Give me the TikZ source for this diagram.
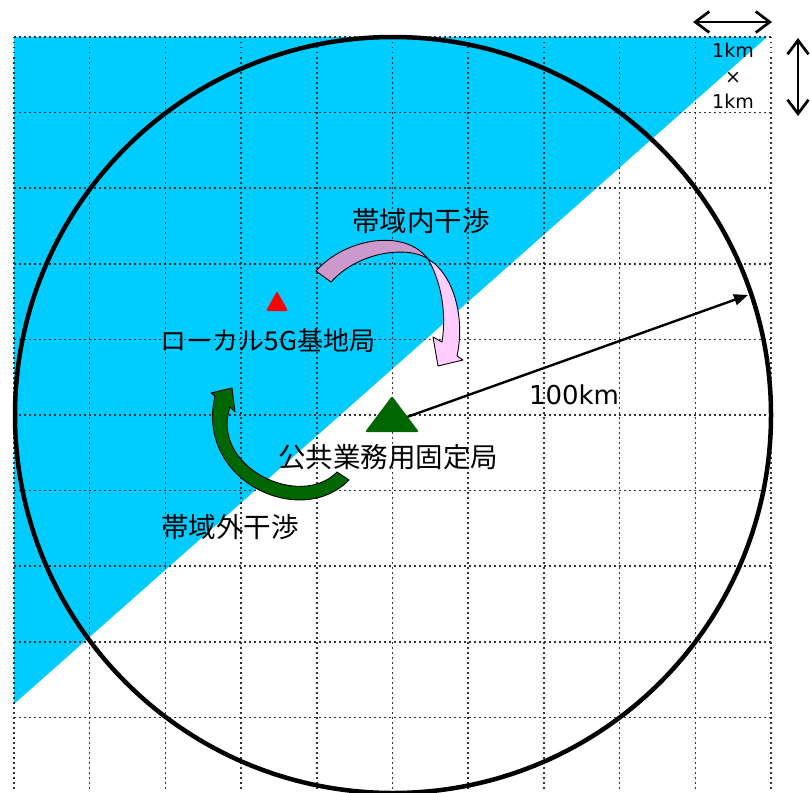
\documentclass[tikz,border=0pt]{standalone}
\usepackage{fontspec}
\newfontfamily\jpfont{Noto Sans CJK JP}
\newfontfamily\latfont{DejaVu Sans}
\usetikzlibrary{arrows.meta, calc}
\definecolor{sea}{HTML}{00CCFF}
\definecolor{dgreen}{HTML}{006600}
\definecolor{mauve}{HTML}{CC99CC}
\definecolor{lpink}{HTML}{FFCCFF}
\tikzset{
    %Define style for japanese labels
    jlab/.style={
           font=\jpfont\fontsize{27.5}{32}\selectfont,
           inner sep=0pt},
    %latin labels
    llab/.style={
           font=\latfont\fontsize{26}{30}\selectfont,
           inner sep=0pt},
    %dotted 1km grid
    gridl/.style={
           line width=1.5pt,
           dash pattern=on 1.5pt off 3.5pt,
           black!80},
    %service area
    ring/.style={line width=4.5pt},
    % Define arrow styles
    rad/.style={
           -{Triangle[length=14pt,width=11pt]},
           line width=2.4pt},
    dbl/.style={
           {Straight Barb[length=14pt,width=21pt]}-{Straight Barb[length=14pt,width=21pt]},
           line width=2.7pt},
    band/.style={
           draw=black,
           line width=0.9pt,
           line join=round}
}
\begin{document}
\begin{tikzpicture}[x=1pt,y=-1pt]
\useasboundingbox (0,0) rectangle (810,792);

% sea side
\fill[sea] (14,37) -- (767,37) -- (14,704) -- cycle;

% grid
\foreach \i in {0,...,10}
  \draw[gridl] (14+75.7*\i,37) -- (14+75.7*\i,792);
\foreach \j in {0,...,9}
  \draw[gridl] (14,37+75.6*\j) -- (771,37+75.6*\j);

\coordinate (ctr) at (393,415);
\coordinate (tail) at (393,422);
\coordinate (edge) at (748,295);

\draw[ring] (ctr) circle[radius=378pt];
\draw[rad] (tail) -- (edge);

% stations
\fill[dgreen, rounded corners=2pt] (392,396) -- (419,432) -- (365,432) -- cycle;
\fill[red, rounded corners=1.5pt] (277,291) -- (288,311) -- (266,311) -- cycle;

% in-band interference arrow
\filldraw[band, fill=mauve] (316,271) .. controls (345,238) and (405,228) .. (428,259)
   .. controls (410,246) and (360,250) .. (331,282) -- cycle;
\filldraw[band, fill=lpink] (428,259) .. controls (455,275) and (465,320) .. (457,356)
   -- (463,360) -- (438,366) -- (433,337) -- (442,342)
   .. controls (447,310) and (440,280) .. (428,259) -- cycle;

% out-of-band interference arrow
\filldraw[band, fill=dgreen] (349,480) .. controls (300,530) and (195,480) .. (215,396)
   -- (211,393) -- (232,388) -- (235,412) -- (230,407)
   .. controls (210,467) and (300,510) .. (337,472) -- cycle;

% labels
\node[jlab, font=\jpfont\fontsize{26}{30}\selectfont] (lbl5g) at (268,341) {ローカル5G基地局};
\node[jlab] (lblfix) at (388,457) {公共業務用固定局};
\node[jlab] (lblin) at (421,221) {帯域内干渉};
\node[jlab] (lblout) at (230,527) {帯域外干渉};
\node[llab] (lbldist) at (574,395) {100km};
\node[llab, align=center, font=\latfont\fontsize{19}{25.5}\selectfont] (unit) at (733,76) {1km\\×\\1km};

% scale arrows
\coordinate (hl) at (693,22);
\coordinate (hr) at (772,22);
\coordinate (vt) at (798,38);
\coordinate (vb) at (798,116);
\draw[dbl] (hl) -- (hr);
\draw[dbl] (vt) -- (vb);

\end{tikzpicture}
\end{document}
